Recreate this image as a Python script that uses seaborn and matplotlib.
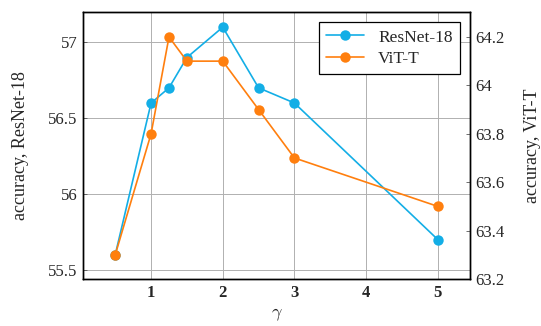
import matplotlib
matplotlib.use("Agg")
import matplotlib.pyplot as plt
import seaborn as sns
import pandas as pd

gamma = [0.5, 1, 1.25, 1.5, 2, 2.5, 3, 5]
resnet18 = [55.6, 56.6, 56.7, 56.9, 57.1, 56.7, 56.6, 55.7]
vit_t = [63.3, 63.8, 64.2, 64.1, 64.1, 63.9, 63.7, 63.5]
x_ticks = [1, 2, 3, 4, 5]
left_ticks = [55.5, 56, 56.5, 57]
left_tick_labels = ["55.5", "56", "56.5", "57"]
right_ticks = [63.2, 63.4, 63.6, 63.8, 64, 64.2]
right_tick_labels = ["63.2", "63.4", "63.6", "63.8", "64", "64.2"]

sns.set_style("white")
plt.rcParams['font.family'] = ['Liberation Serif', 'DejaVu Serif']
plt.rcParams['mathtext.fontset'] = 'cm'

c_res = '#13aee6'
c_vit = '#ff7f0e'

df = pd.DataFrame({"gamma": gamma, "resnet": resnet18, "vit": vit_t})

fig = plt.figure(figsize=(5.41, 3.26), dpi=100)
ax = fig.add_axes([0.1534, 0.1442, 0.8688 - 0.1534, 0.9632 - 0.1442])
ax2 = ax.twinx()

sns.lineplot(data=df, x="gamma", y="resnet", ax=ax, color=c_res, marker='o',
             markersize=7.5, markeredgewidth=0, linewidth=1.2, label="ResNet-18", legend=False)
sns.lineplot(data=df, x="gamma", y="vit", ax=ax2, color=c_vit, marker='o',
             markersize=7.5, markeredgewidth=0, linewidth=1.2, label="ViT-T", legend=False)

ax.set_xlim(0.05, 5.45)
ax.set_ylim(55.44, 57.2)
ax2.set_ylim(63.2, 64.303)

ax.set_xticks(x_ticks)
ax.set_xticklabels([str(t) for t in x_ticks], fontweight='bold', fontsize=12)
ax.set_yticks(left_ticks)
ax.set_yticklabels(left_tick_labels, fontsize=12)
ax2.set_yticks(right_ticks)
ax2.set_yticklabels(right_tick_labels, fontsize=12)

ax.grid(True, color='#b0b0b0', linewidth=0.7)
ax.set_axisbelow(True)
ax2.grid(False)

for a in (ax, ax2):
    a.tick_params(direction='in', length=3, width=0.6, color='#555555', pad=4)
    for s in a.spines.values():
        s.set_color('black')
        s.set_linewidth(1.0)

ax.set_xlabel(r"$\gamma$", fontsize=13, labelpad=4)
ax.set_ylabel("accuracy, ResNet-18", fontsize=13, labelpad=14)
ax2.set_ylabel("accuracy, ViT-T", fontsize=13, labelpad=14)

h1, l1 = ax.get_legend_handles_labels()
h2, l2 = ax2.get_legend_handles_labels()
leg = ax2.legend(h1 + h2, l1 + l2, loc='upper right', fontsize=12.5, frameon=True,
                 fancybox=False, edgecolor='black', framealpha=1, borderaxespad=0.6,
                 handlelength=2.2, labelspacing=0.3)
leg.get_frame().set_linewidth(0.9)

fig.savefig("out.png", dpi=100)
